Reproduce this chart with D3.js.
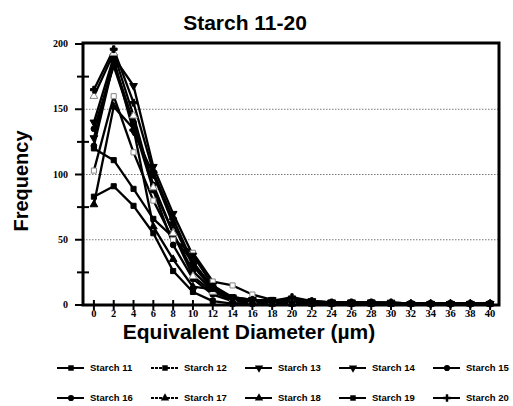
<!DOCTYPE html>
<html>
<head>
<meta charset="utf-8">
<script src="https://d3js.org/d3.v7.min.js"></script>
<style>
  body { margin: 0; background: #fff; }
  svg { display: block; }
</style>
</head>
<body>
<div id="chart"></div>
<script>
// 1: DATA
const diameters = [0, 2, 4, 6, 8, 10, 12, 14, 16, 18, 20, 22, 24, 26, 28, 30, 32, 34, 36, 38, 40];
const yTicks = [0, 50, 100, 150, 200];

const starch11 = [120, 111, 89, 66, 52, 33, 13, 6, 4, 3, 3, 2, 2, 2, 2, 1, 1, 1, 1, 1, 1];
const starch12 = [103, 160, 117, 80, 50, 40, 18, 15, 8, 4, 3, 2, 2, 2, 1, 1, 1, 1, 1, 1, 1];
const starch13 = [140, 190, 168, 106, 70, 38, 15, 6, 4, 3, 5, 3, 2, 2, 2, 2, 1, 1, 1, 1, 1];
const starch14 = [128, 188, 133, 100, 62, 30, 12, 5, 3, 4, 4, 3, 2, 2, 2, 1, 1, 1, 1, 1, 1];
const starch15 = [122, 186, 140, 92, 55, 26, 11, 4, 3, 2, 2, 2, 1, 1, 1, 1, 1, 1, 1, 1, 1];
const starch16 = [135, 183, 138, 88, 46, 20, 8, 3, 2, 2, 1, 1, 1, 1, 1, 1, 1, 1, 1, 1, 1];
const starch17 = [160, 193, 145, 90, 55, 22, 10, 4, 3, 2, 2, 1, 1, 1, 1, 1, 1, 1, 1, 1, 1];
const starch18 = [77, 152, 135, 60, 35, 14, 12, 3, 2, 1, 1, 1, 1, 1, 1, 1, 1, 1, 1, 1, 1];
const starch19 = [83, 91, 76, 55, 26, 10, 3, 1, 1, 1, 1, 1, 1, 1, 1, 1, 1, 1, 1, 1, 1];
const starch20 = [165, 196, 155, 102, 66, 32, 14, 5, 4, 3, 6, 3, 2, 2, 2, 2, 1, 1, 1, 1, 1];

const series = [
    { name: "Starch 11", values: starch11, symbol: d3.symbolSquare, open: false, dash: null },
    { name: "Starch 12", values: starch12, symbol: d3.symbolSquare, open: true, dash: "3,1" },
    { name: "Starch 13", values: starch13, symbol: "down", open: false, dash: null },
    { name: "Starch 14", values: starch14, symbol: "down", open: false, dash: null },
    { name: "Starch 15", values: starch15, symbol: d3.symbolCircle, open: false, dash: null },
    { name: "Starch 16", values: starch16, symbol: d3.symbolCircle, open: false, dash: null },
    { name: "Starch 17", values: starch17, symbol: d3.symbolTriangle, open: true, dash: "3,1" },
    { name: "Starch 18", values: starch18, symbol: d3.symbolTriangle, open: false, dash: null },
    { name: "Starch 19", values: starch19, symbol: d3.symbolSquare, open: false, dash: null },
    { name: "Starch 20", values: starch20, symbol: d3.symbolCross, open: false, dash: null }
];

// 2: LAYOUT
const W = 513, H = 406;
const frame = { left: 83, right: 499, top: 43, bottom: 305 };

const svg = d3.select("#chart").append("svg")
    .attr("width", W)
    .attr("height", H);

// 3: SCALES
const x = d3.scalePoint()
    .domain(diameters)
    .range([84, 500])
    .padding(0.5);

const y = d3.scaleLinear()
    .domain([0, 200])
    .range([frame.bottom, frame.top + 1]);

function symbolPath(sym, size) {
    if (sym === "down") {
        return d3.symbol().type(d3.symbolTriangle).size(size)();
    }
    return d3.symbol().type(sym).size(size)();
}

// grid lines (dotted)
svg.append("g")
    .selectAll("line")
    .data([50, 100, 150])
    .join("line")
    .attr("x1", frame.left)
    .attr("x2", frame.right)
    .attr("y1", d => y(d))
    .attr("y2", d => y(d))
    .attr("stroke", "#777")
    .attr("stroke-width", 1)
    .attr("stroke-dasharray", "1.5,1.5");

// 4: LINES AND MARKERS
const line = d3.line()
    .x((d, i) => x(diameters[i]))
    .y(d => y(d));

const plot = svg.append("g");

series.forEach(s => {
    plot.append("path")
        .datum(s.values)
        .attr("fill", "none")
        .attr("stroke", "#000")
        .attr("stroke-width", 2.3)
        .attr("stroke-linejoin", "round")
        .attr("d", line);
});

series.forEach(s => {
    plot.selectAll(null)
        .data(s.values)
        .join("path")
        .attr("transform", (d, i) => `translate(${x(diameters[i])},${y(d)})` + (s.symbol === "down" ? " rotate(180)" : ""))
        .attr("d", symbolPath(s.symbol, 26))
        .attr("fill", s.open ? "#fff" : "#000")
        .attr("stroke", s.open ? "#888" : "#000")
        .attr("stroke-width", 1);
});

// 5: AXES / FRAME
// y axis ticks
const yAxis = svg.append("g");
yAxis.selectAll("line.major")
    .data(yTicks)
    .join("line")
    .attr("class", "major")
    .attr("x1", 75)
    .attr("x2", frame.left)
    .attr("y1", d => y(d))
    .attr("y2", d => y(d))
    .attr("stroke", "#000")
    .attr("stroke-width", 2);

yAxis.selectAll("line.minor")
    .data([25, 75, 125, 175])
    .join("line")
    .attr("class", "minor")
    .attr("x1", 77)
    .attr("x2", 89)
    .attr("y1", d => y(d))
    .attr("y2", d => y(d))
    .attr("stroke", "#000")
    .attr("stroke-width", 2);

yAxis.selectAll("text")
    .data(yTicks)
    .join("text")
    .attr("x", 68)
    .attr("y", d => y(d) + 3)
    .attr("text-anchor", "end")
    .style("font-family", "'Liberation Serif', 'DejaVu Serif', serif")
    .style("font-weight", "bold")
    .style("font-size", "10px")
    .text(d => d);

// x axis ticks
const xAxis = svg.append("g");
xAxis.selectAll("line")
    .data(diameters)
    .join("line")
    .attr("x1", d => x(d))
    .attr("x2", d => x(d))
    .attr("y1", frame.bottom - 5)
    .attr("y2", frame.bottom + 5)
    .attr("stroke", "#000")
    .attr("stroke-width", 2);

xAxis.selectAll("text")
    .data(diameters)
    .join("text")
    .attr("x", d => x(d))
    .attr("y", 317)
    .attr("text-anchor", "middle")
    .style("font-family", "'Liberation Serif', 'DejaVu Serif', serif")
    .style("font-weight", "bold")
    .style("font-size", "10.5px")
    .text(d => d);

// frame
svg.append("rect")
    .attr("x", frame.left)
    .attr("y", frame.top)
    .attr("width", frame.right - frame.left)
    .attr("height", frame.bottom - frame.top)
    .attr("fill", "none")
    .attr("stroke", "#000")
    .attr("stroke-width", 3);

// 6: LABELS
svg.append("text")
    .attr("x", 245)
    .attr("y", 30)
    .attr("text-anchor", "middle")
    .style("font-family", "'Liberation Sans', Arial, sans-serif")
    .style("font-weight", "bold")
    .style("font-size", "21px")
    .text("Starch 11-20");

svg.append("text")
    .attr("transform", "translate(28,181) rotate(-90)")
    .attr("text-anchor", "middle")
    .style("font-family", "'Liberation Sans', Arial, sans-serif")
    .style("font-weight", "bold")
    .style("font-size", "20px")
    .text("Frequency");

svg.append("text")
    .attr("x", 249)
    .attr("y", 339)
    .attr("text-anchor", "middle")
    .style("font-family", "'Liberation Sans', Arial, sans-serif")
    .style("font-weight", "bold")
    .style("font-size", "21px")
    .text("Equivalent Diameter (µm)");

// 7: LEGEND
const legend = svg.append("g");
series.forEach((s, i) => {
    const col = i % 5, row = Math.floor(i / 5);
    const lx = 57 + col * 94;
    const ly = 368 + row * 30;
    const g = legend.append("g").attr("transform", `translate(${lx},${ly})`);
    g.append("line")
        .attr("x1", 0)
        .attr("x2", 27)
        .attr("y1", 0)
        .attr("y2", 0)
        .attr("stroke", "#000")
        .attr("stroke-width", 2)
        .attr("stroke-dasharray", s.dash);
    g.append("path")
        .attr("transform", `translate(14,0)` + (s.symbol === "down" ? " rotate(180)" : ""))
        .attr("d", symbolPath(s.symbol, 30))
        .attr("fill", "#000");
    g.append("text")
        .attr("x", 33)
        .attr("y", 3)
        .style("font-family", "'Liberation Sans', Arial, sans-serif")
        .style("font-weight", "bold")
        .style("font-size", "9.5px")
        .text(s.name);
});
</script>
</body>
</html>
